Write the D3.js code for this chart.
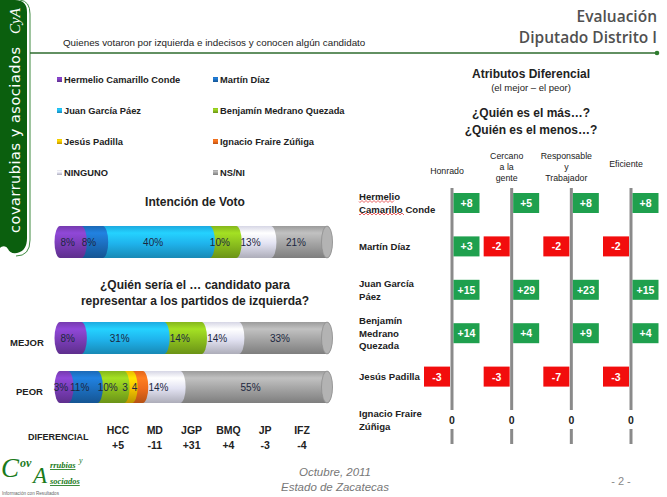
<!DOCTYPE html>
<html>
<head>
<meta charset="utf-8">
<script src="https://cdn.jsdelivr.net/npm/d3@7"></script>
<style>
  body { margin: 0; background: #fff; }
  svg { display: block; }
  text { font-family: "Liberation Sans", Arial, sans-serif; }
</style>
</head>
<body>
<script>
// --- data ---
const keys = ['HCC', 'MD', 'JGP', 'BMQ', 'JP', 'IFZ', 'NING', 'NSNI'];
const names = ['Hermelio Camarillo Conde', 'Martín Díaz', 'Juan García Páez', 'Benjamín Medrano Quezada',
  'Jesús Padilla', 'Ignacio Fraire Zúñiga', 'NINGUNO', 'NS/NI'];
const colors = ['#7B3DB8', '#1C6FC0', '#1FB3EC', '#8CC01E', '#F4C300', '#EE6B1C', '#E2E2F2', '#A4A4A4'];

const intencion = [8, 8, 40, 10, 0, 0, 13, 21];
const mejor = [8, 0, 31, 14, 0, 0, 14, 33];
const peor = [3, 11, 0, 10, 3, 4, 14, 55];

const difKeys = ['HCC', 'MD', 'JGP', 'BMQ', 'JP', 'IFZ'];
const difValues = [5, -11, 31, 4, -3, -4];

const attributes = ['Honrado', 'Cercano a la gente', 'Responsable y Trabajador', 'Eficiente'];
const attrLines = [['Honrado'], ['Cercano', 'a la', 'gente'], ['Responsable', 'y', 'Trabajador'], ['Eficiente']];
const rowLines = [['Hermelio', 'Camarillo Conde'], ['Martín Díaz'], ['Juan García', 'Páez'],
  ['Benjamín', 'Medrano', 'Quezada'], ['Jesús Padilla'], ['Ignacio Fraire', 'Zúñiga']];
const honrado = [8, 3, 15, 14, -3, 0];
const cercano = [5, -2, 29, 4, -3, 0];
const responsable = [8, -2, 23, 9, -7, 0];
const eficiente = [8, -2, 15, 4, -3, 0];
const attrValues = [honrado, cercano, responsable, eficiente];

const W = 667, H = 497;
const svg = d3.select('body').append('svg').attr('width', W).attr('height', H);
const defs = svg.append('defs');
const signed = v => (v > 0 ? '+' : '') + v;   // plain hyphen for negatives, like the slide

// cylinder shading, one gradient per colour
colors.forEach((c, i) => {
  const base = d3.color(c);
  const g = defs.append('linearGradient').attr('id', 'cyl' + i)
    .attr('x1', 0).attr('y1', 0).attr('x2', 0).attr('y2', 1);
  g.append('stop').attr('offset', '0%').attr('stop-color', base.darker(0.15));
  g.append('stop').attr('offset', '22%').attr('stop-color', base.brighter(0.45));
  g.append('stop').attr('offset', '55%').attr('stop-color', base);
  g.append('stop').attr('offset', '100%').attr('stop-color', base.darker(0.75));
});

// --- left brand band ---
svg.append('path')
  .attr('d', 'M0,0 H15 Q27,0 27,12 V238 Q27,251 17,253 Q10,254 8,249 Q6,245 1,247 L0,248 Z')
  .attr('fill', '#0B5F0E');
svg.append('path')
  .attr('d', 'M20,0 Q30,1 30,14 V240 Q30,256 16,256')
  .attr('fill', 'none').attr('stroke', '#3E8A40').attr('stroke-width', 1);
svg.append('text')
  .attr('transform', 'translate(19.5,233) rotate(-90)')
  .attr('textLength', 186).attr('lengthAdjust', 'spacing')
  .style('font-family', '"DejaVu Sans", sans-serif').style('font-size', '14.5px')
  .attr('fill', '#fff').text('covarrubias y asociados');
svg.append('text')
  .attr('transform', 'translate(20,34) rotate(-90)')
  .style('font-family', '"Liberation Serif", serif').style('font-style', 'italic')
  .style('font-size', '15px').attr('fill', '#fff').text('CyA');

// --- header ---
svg.append('text').attr('x', 657).attr('y', 22).attr('text-anchor', 'end')
  .style('font-family', '"Open Sans", sans-serif').style('font-weight', 600).style('font-size', '15.5px')
  .attr('fill', '#505050').text('Evaluación');
svg.append('text').attr('x', 657).attr('y', 43).attr('text-anchor', 'end')
  .style('font-family', '"Open Sans", sans-serif').style('font-weight', 600).style('font-size', '15.5px')
  .attr('fill', '#505050').text('Diputado Distrito I');
svg.append('text').attr('x', 63).attr('y', 46).style('font-size', '9.8px').attr('fill', '#222')
  .text('Quienes votaron por izquierda e indecisos y conocen algún candidato');
svg.append('line').attr('x1', 30).attr('x2', 656).attr('y1', 53).attr('y2', 53)
  .attr('stroke', '#2E6B2E').attr('stroke-width', 1.3);
svg.append('circle').attr('cx', 657).attr('cy', 53).attr('r', 2.3).attr('fill', '#2E7D2E');

// --- legend ---
const legX = d3.scalePoint().domain([0, 1]).range([57, 213]);
const legY = d3.scalePoint().domain([0, 1, 2, 3]).range([80, 173]);
const legend = svg.append('g').selectAll('g').data(names).join('g')
  .attr('transform', (d, i) => `translate(${legX(i % 2)},${legY(Math.floor(i / 2))})`);
legend.append('rect').attr('x', 0).attr('y', -3).attr('width', 5).attr('height', 5)
  .attr('fill', (d, i) => `url(#cyl${i})`);
legend.append('text').attr('x', 7).attr('y', 3).style('font-size', '9.3px').style('font-weight', 'bold')
  .attr('fill', '#222').text(d => d);

// --- stacked cylinder bars ---
const x = d3.scaleLinear().domain([0, 100]).range([60, 327]);
const barH = 32;

function cylinder(values, top, noPct) {
  const g = svg.append('g');
  const rx = 5.5, ry = barH / 2;
  let acc = 0;
  const segs = values.map((v, i) => {
    const s = { i, v, x0: acc, x1: acc + v };
    acc += v;
    return s;
  }).filter(s => s.v > 0);
  g.selectAll('path').data(segs.slice().reverse()).join('path')
    .attr('d', s => {
      const a = x(s.x0), b = x(s.x1);
      return `M${a},${top} L${b},${top} A${rx},${ry} 0 0 1 ${b},${top + barH} L${a},${top + barH} A${rx},${ry} 0 0 1 ${a},${top} Z`;
    })
    .attr('fill', s => `url(#cyl${s.i})`);
  const last = segs[segs.length - 1];
  g.append('ellipse').attr('cx', x(last.x1)).attr('cy', top + ry).attr('rx', rx).attr('ry', ry)
    .attr('fill', d3.color(colors[last.i]).brighter(0.25))
    .attr('stroke', d3.color(colors[last.i]).darker(0.4)).attr('stroke-width', 0.8);
  g.selectAll('text').data(segs).join('text')
    .attr('x', s => x((s.x0 + s.x1) / 2) - 3).attr('y', top + ry + 4)
    .attr('text-anchor', 'middle').style('font-size', '10px').attr('fill', '#1C2740')
    .text(s => noPct.includes(keys[s.i]) ? s.v : s.v + '%');
}

svg.append('text').attr('x', 195).attr('y', 206).attr('text-anchor', 'middle')
  .style('font-size', '12px').style('font-weight', 'bold').attr('fill', '#222').text('Intención de Voto');
cylinder(intencion, 226, []);

svg.append('text').attr('x', 195).attr('y', 289).attr('text-anchor', 'middle')
  .style('font-size', '12px').style('font-weight', 'bold').attr('fill', '#222').text('¿Quién sería el … candidato para');
svg.append('text').attr('x', 195).attr('y', 305).attr('text-anchor', 'middle')
  .style('font-size', '12px').style('font-weight', 'bold').attr('fill', '#222').text('representar a los partidos de izquierda?');
cylinder(mejor, 322, []);
cylinder(peor, 371, ['JP', 'IFZ']);

svg.append('text').attr('x', 10).attr('y', 346).style('font-size', '9.5px').style('font-weight', 'bold')
  .attr('fill', '#222').text('MEJOR');
svg.append('text').attr('x', 16).attr('y', 395).style('font-size', '9.5px').style('font-weight', 'bold')
  .attr('fill', '#222').text('PEOR');

// --- diferencial row ---
const dx = d3.scalePoint().domain(difKeys).range([118, 302]);
svg.append('text').attr('x', 28).attr('y', 440).style('font-size', '9px').style('font-weight', 'bold')
  .attr('fill', '#222').text('DIFERENCIAL');
const dif = svg.append('g').selectAll('g').data(difKeys).join('g')
  .attr('transform', d => `translate(${dx(d)},0)`);
dif.append('text').attr('y', 434).attr('text-anchor', 'middle').style('font-size', '10.5px')
  .style('font-weight', 'bold').attr('fill', '#222').text(d => d);
dif.append('text').attr('y', 449).attr('text-anchor', 'middle').style('font-size', '10.5px')
  .style('font-weight', 'bold').attr('fill', '#222')
  .text((d, i) => signed(difValues[i]));

// --- atributos diferencial panel ---
svg.append('text').attr('x', 531).attr('y', 78).attr('text-anchor', 'middle')
  .style('font-size', '12px').style('font-weight', 'bold').attr('fill', '#222').text('Atributos Diferencial');
svg.append('text').attr('x', 531).attr('y', 91).attr('text-anchor', 'middle')
  .style('font-size', '9.5px').attr('fill', '#222').text('(el mejor – el peor)');
svg.append('text').attr('x', 531).attr('y', 117).attr('text-anchor', 'middle')
  .style('font-size', '12px').style('font-weight', 'bold').attr('fill', '#222').text('¿Quién es el más…?');
svg.append('text').attr('x', 531).attr('y', 134).attr('text-anchor', 'middle')
  .style('font-size', '12px').style('font-weight', 'bold').attr('fill', '#222').text('¿Quién es el menos…?');

const ax = d3.scalePoint().domain(attributes).range([452, 631]);
const ry = d3.scalePoint().domain(difKeys).range([203, 420]);

// column headers
const headDy = [4, 0, 0, -3];
attributes.forEach((a, j) => {
  const lines = attrLines[j];
  const t = svg.append('text').attr('text-anchor', 'middle').style('font-size', '8.8px').attr('fill', '#222');
  lines.forEach((l, k) => {
    t.append('tspan').attr('x', ax(a) - 5)
      .attr('y', 170 + headDy[j] + (k - (lines.length - 1) / 2) * 11).text(l);
  });
});

// axis lines
svg.append('g').selectAll('line').data(attributes).join('line')
  .attr('x1', d => ax(d)).attr('x2', d => ax(d)).attr('y1', 188).attr('y2', 444)
  .attr('stroke', '#8A8A8A').attr('stroke-width', 3);

// row labels
rowLines.forEach((lines, i) => {
  const t = svg.append('text').style('font-size', '9.6px').style('font-weight', 'bold').attr('fill', '#222');
  lines.forEach((l, k) => {
    t.append('tspan').attr('x', 359)
      .attr('y', ry(difKeys[i]) + 3.5 + (k - (lines.length - 1) / 2) * 12.5).text(l);
  });
});
// spellcheck squiggles under "Hermelio Camarillo"
function squiggle(x0, x1, y) {
  let d = `M${x0},${y}`;
  for (let xx = x0; xx < x1; xx += 2) d += ` L${xx + 1},${y + (((xx - x0) / 2) % 2 ? -1 : 1)}`;
  svg.append('path').attr('d', d).attr('fill', 'none').attr('stroke', '#E02020').attr('stroke-width', 0.7);
}
squiggle(359, 394, ry('HCC') - 1.5);
squiggle(359, 404, ry('HCC') + 11);

// value boxes
const cells = [];
attributes.forEach((a, j) => difKeys.forEach((k, i) => cells.push({ a, k, v: attrValues[j][i] })));
const boxW = 26, boxH = 20;
const cell = svg.append('g').selectAll('g').data(cells).join('g')
  .attr('transform', d => `translate(${ax(d.a)},${ry(d.k)})`);
cell.filter(d => d.v !== 0).append('rect')
  .attr('x', d => d.v > 0 ? 1.5 : -boxW - 2).attr('y', -boxH / 2)
  .attr('width', boxW).attr('height', boxH)
  .attr('fill', d => d.v > 0 ? '#1FA04E' : '#F20D0D');
cell.filter(d => d.v !== 0).append('text')
  .attr('x', d => d.v > 0 ? 1.5 + boxW / 2 : -2 - boxW / 2).attr('y', 4)
  .attr('text-anchor', 'middle').style('font-size', '10.5px').style('font-weight', 'bold')
  .attr('fill', '#fff').text(d => signed(d.v));
cell.filter(d => d.v === 0).append('rect')
  .attr('x', -6).attr('y', -10).attr('width', 12).attr('height', 19).attr('fill', '#fff');
cell.filter(d => d.v === 0).append('text')
  .attr('x', 0).attr('y', 3.5).attr('text-anchor', 'middle').style('font-size', '10.5px')
  .style('font-weight', 'bold').attr('fill', '#222').text('0');

// --- footer ---
svg.append('text').attr('x', 335).attr('y', 476).attr('text-anchor', 'middle')
  .style('font-size', '11.5px').style('font-style', 'italic').attr('fill', '#777').text('Octubre, 2011');
svg.append('text').attr('x', 335).attr('y', 491).attr('text-anchor', 'middle')
  .style('font-size', '11.5px').style('font-style', 'italic').attr('fill', '#777').text('Estado de Zacatecas');
svg.append('text').attr('x', 621).attr('y', 485).attr('text-anchor', 'middle')
  .style('font-size', '11px').attr('fill', '#888').text('- 2 -');

// bottom-left logo, one text block
const logo = svg.append('text').style('font-family', '"Liberation Serif", serif').style('font-style', 'italic')
  .attr('fill', '#1A7A1A');
logo.append('tspan').attr('x', 1).attr('y', 477).style('font-size', '27px').text('C');
logo.append('tspan').attr('x', 20).attr('y', 467).style('font-size', '12px').style('font-weight', 'bold').text('ov');
logo.append('tspan').attr('x', 33).attr('y', 483).style('font-size', '23px').text('A');
logo.append('tspan').attr('x', 50).attr('y', 468).style('font-size', '8.5px').style('font-weight', 'bold')
  .attr('text-decoration', 'underline').text('rrubias');
logo.append('tspan').attr('x', 79).attr('y', 463).style('font-size', '8px').text('y');
logo.append('tspan').attr('x', 50).attr('y', 484).style('font-size', '8.5px').style('font-weight', 'bold')
  .attr('text-decoration', 'underline').text('sociados');
svg.append('text').attr('x', 2).attr('y', 495).style('font-size', '4.6px').attr('fill', '#666')
  .text('Información con Resultados');
</script>
</body>
</html>
